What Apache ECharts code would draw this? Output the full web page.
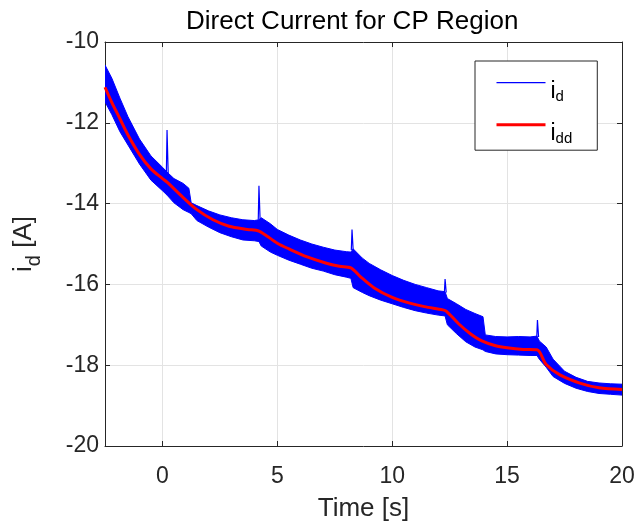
<!DOCTYPE html>
<html><head><meta charset="utf-8">
<script src="https://cdn.jsdelivr.net/npm/echarts@6/dist/echarts.min.js"></script>
<style>html,body{margin:0;padding:0;background:#fff}#c{width:638px;height:529px}</style>
</head><body><div id="c"></div>
<script>
// ---- data ----
const envT  = [-2.5,-2.2,-1.85,-1.5,-1.0,-0.5,0.0,0.2,0.5,0.9,1.15,1.25,1.5,2.0,2.5,3.0,3.5,4.0,4.2,4.3,4.7,5.0,5.5,6.0,6.5,7.0,7.5,8.0,8.2,8.3,8.7,9.0,9.5,10.0,10.5,11.0,11.5,12.0,12.3,12.4,12.8,13.2,13.6,13.95,14.05,14.5,15.0,15.5,16.0,16.3,16.4,16.7,17.0,17.5,18.0,18.5,19.0,19.5,20.0];
const envHi = [-10.57,-10.90,-11.39,-11.85,-12.40,-12.82,-13.10,-13.22,-13.38,-13.50,-13.62,-13.98,-14.05,-14.18,-14.28,-14.35,-14.40,-14.42,-14.40,-14.35,-14.50,-14.64,-14.78,-14.90,-15.00,-15.08,-15.15,-15.19,-15.20,-15.12,-15.35,-15.48,-15.64,-15.78,-15.90,-16.00,-16.08,-16.16,-16.18,-16.35,-16.48,-16.62,-16.72,-16.80,-17.25,-17.29,-17.30,-17.29,-17.30,-17.28,-17.40,-17.55,-17.85,-18.15,-18.30,-18.40,-18.44,-18.46,-18.47];
const envLo = [-11.48,-11.80,-12.22,-12.55,-13.02,-13.42,-13.68,-13.79,-13.98,-14.15,-14.22,-14.25,-14.42,-14.58,-14.72,-14.82,-14.90,-14.92,-14.94,-15.05,-15.20,-15.28,-15.40,-15.50,-15.60,-15.67,-15.76,-15.82,-15.85,-16.08,-16.20,-16.28,-16.39,-16.48,-16.57,-16.65,-16.71,-16.76,-16.78,-17.00,-17.22,-17.42,-17.55,-17.62,-17.66,-17.72,-17.74,-17.75,-17.76,-17.76,-17.85,-18.05,-18.28,-18.45,-18.57,-18.65,-18.70,-18.72,-18.74];

const ddT = [-2.5,-2.2,-1.85,-1.5,-1.0,-0.5,0.0,0.2,0.9,1.5,2.2,2.9,3.7,4.2,5.0,5.5,6.3,7.1,7.7,8.2,8.6,9.2,10.0,10.8,11.4,12.2,12.35,12.9,13.4,13.9,14.5,15.0,15.7,16.3,16.7,17.3,18.2,19.0,20.0];
const ddV = [-11.12,-11.50,-11.90,-12.30,-12.78,-13.14,-13.38,-13.47,-13.85,-14.15,-14.40,-14.56,-14.64,-14.68,-14.98,-15.12,-15.32,-15.47,-15.55,-15.59,-15.80,-16.08,-16.32,-16.47,-16.55,-16.63,-16.66,-16.98,-17.22,-17.40,-17.52,-17.57,-17.61,-17.62,-17.98,-18.24,-18.45,-18.56,-18.60];

const spikeT    = [0.2, 4.2, 8.25, 12.3, 16.32];
const spikeBase = [-13.25, -14.40, -15.15, -16.20, -17.30];
const spikePeak = [-12.18, -13.56, -14.64, -15.87, -16.88];

const xMin = -2.5, xMax = 20;
const yMin = -20, yMax = -10, yStep = 2;

// ---- chart ----
const FONT = '"Liberation Sans", Arial, Helvetica, sans-serif';
const AX = '#262626';
const chart = echarts.init(document.getElementById('c'), null, {renderer: 'canvas'});

const spikeData = [];
spikeT.forEach((t, i) => {
  spikeData.push([t - 0.03, spikeBase[i]], [t, spikePeak[i]], [t + 0.05, spikeBase[i]], [t + 0.05, '-']);
});

const axisCommon = {
  axisLine: {show: true, onZero: false, lineStyle: {color: AX, width: 1}},
  axisTick: {show: true, inside: true, length: 5, lineStyle: {color: AX}},
};

chart.setOption({
  animation: false,
  backgroundColor: '#fff',
  title: {
    text: 'Direct Current for CP Region',
    left: 181, top: 4,
    textStyle: {fontFamily: FONT, fontSize: 26, fontWeight: 'normal', color: '#000'}
  },
  grid: {left: 105, right: 16, top: 42, bottom: 83, containLabel: false, outerBoundsMode: 'none'},
  legend: {
    data: ['i_d', 'i_dd'],
    orient: 'vertical', left: 475, top: 61,
    itemWidth: 49, itemHeight: 14, itemGap: 15,
    padding: [16, 25, 4, 20],
    borderColor: AX, borderWidth: 1, backgroundColor: '#fff',
    itemStyle: {opacity: 0},
    lineStyle: {width: 'inherit'},
    formatter: n => n === 'i_d' ? '{i|i}{s|d}' : '{i|i}{s|dd}',
    textStyle: {
      fontFamily: FONT, color: '#000', padding: [18, 0, 0, 0],
      rich: {
        i: {fontFamily: FONT, fontSize: 23, color: '#000'},
        s: {fontFamily: FONT, fontSize: 15, color: '#000', padding: [10, 0, 0, 0]}
      }
    }
  },
  xAxis: [{
    type: 'value', min: xMin, max: xMax, position: 'bottom',
    name: 'Time [s]', nameLocation: 'middle', nameGap: 50,
    nameTextStyle: {fontFamily: FONT, fontSize: 26, color: AX},
    ...axisCommon,
    axisLabel: {fontFamily: FONT, fontSize: 23, color: AX, margin: 19, showMinLabel: false},
    splitLine: {show: true, lineStyle: {color: '#e3e3e3', width: 1}}
  }, {
    type: 'value', min: xMin, max: xMax, position: 'top',
    ...axisCommon,
    axisLabel: {show: false}, splitLine: {show: false}
  }],
  yAxis: [{
    type: 'value', min: yMin, max: yMax, interval: yStep, position: 'left',
    name: '{i|i}{s|d}{n| [A]}', nameLocation: 'middle', nameGap: 61,
    nameTextStyle: {
      fontFamily: FONT, fontSize: 26, color: AX,
      rich: {
        i: {fontFamily: FONT, fontSize: 26, color: AX},
        n: {fontFamily: FONT, fontSize: 26, color: AX},
        s: {fontFamily: FONT, fontSize: 20, color: AX, padding: [20, 0, 0, 0]}
      }
    },
    ...axisCommon,
    axisLabel: {fontFamily: FONT, fontSize: 23, color: AX, margin: 6, padding: [6, 0, 0, 0]},
    splitLine: {show: true, lineStyle: {color: '#e3e3e3', width: 1}}
  }, {
    type: 'value', min: yMin, max: yMax, interval: yStep, position: 'right',
    ...axisCommon,
    axisLabel: {show: false}, splitLine: {show: false}
  }],
  series: [
    {
      name: 'band', type: 'custom', clip: true,
      data: envT.map((t, i) => [t, envHi[i], envLo[i]]),
      encode: {x: 0, y: [1, 2]},
      renderItem: (params, api) => {
        if (params.dataIndex !== 0) return null;
        const up = envT.map((t, i) => api.coord([t, envHi[i]]));
        const dn = envT.map((t, i) => api.coord([t, envLo[i]])).reverse();
        return {type: 'polygon', shape: {points: up.concat(dn)},
                style: {fill: '#0000ff', stroke: '#0000ff', lineWidth: 1}};
      },
      z: 2
    },
    {
      name: 'i_d', type: 'line', data: spikeData, symbol: 'none', showSymbol: false,
      connectNulls: false,
      lineStyle: {color: '#0000ff', width: 1.2}, itemStyle: {color: '#0000ff'},
      z: 3
    },
    {
      name: 'i_dd', type: 'line', data: ddT.map((t, i) => [t, ddV[i]]),
      symbol: 'none', showSymbol: false, smooth: 0.3,
      lineStyle: {color: '#ff0000', width: 3}, itemStyle: {color: '#ff0000'},
      z: 4
    }
  ]
});
</script>
</body></html>
